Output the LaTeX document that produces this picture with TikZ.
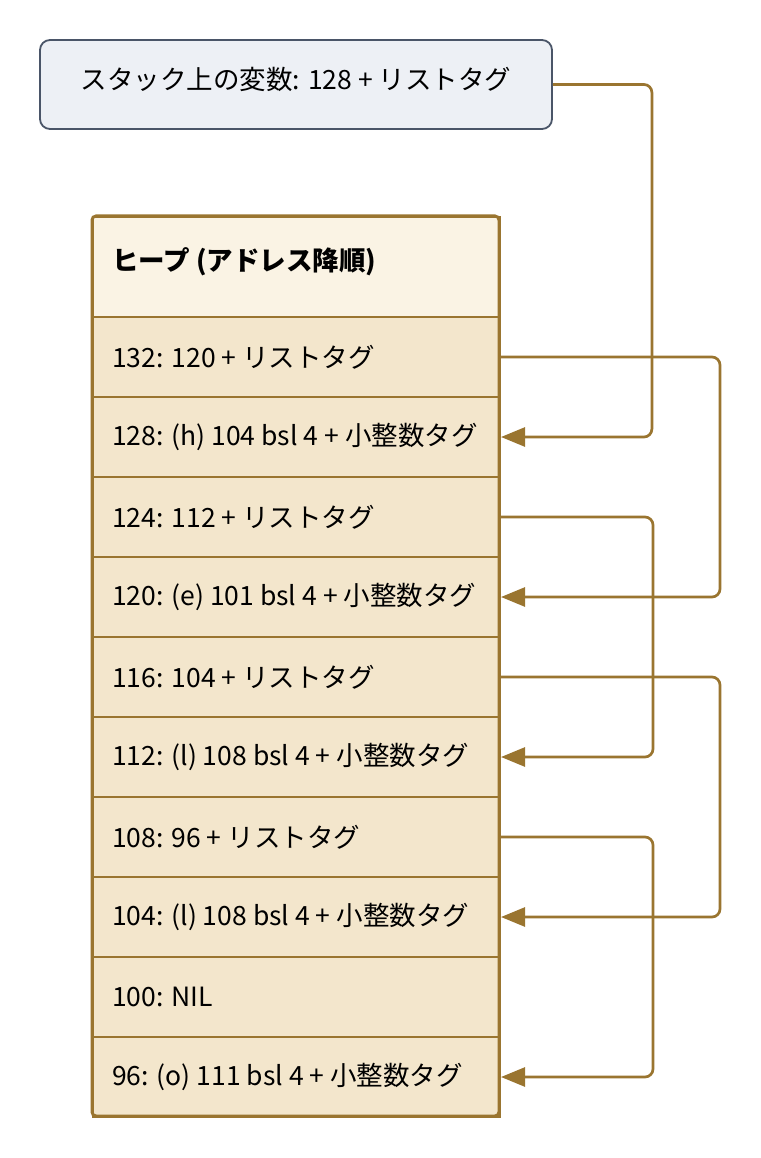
\documentclass[tikz,border=0pt]{standalone}
\usepackage{fontspec}
\setmainfont{Noto Sans CJK JP}
\usetikzlibrary{arrows.meta}
\definecolor{gold}{HTML}{9A7530}
\definecolor{hdrfill}{HTML}{FAF3E4}
\definecolor{rowfill}{HTML}{F3E6CC}
\definecolor{stackfill}{HTML}{EDF0F5}
\definecolor{stackline}{HTML}{4A5568}
\tikzset{
  rowbox/.style={draw=gold, line width=2pt, fill=rowfill, minimum width=407pt, minimum height=80pt, inner sep=0pt, anchor=north west},
  rowtext/.style={anchor=west, inner sep=0pt, font=\fontsize{26.5}{30}\selectfont},
  conn/.style={draw=gold, line width=2.7pt, rounded corners=8pt, -{Triangle[length=24pt,width=19pt]}},
}
\begin{document}
\begin{tikzpicture}[x=1pt,y=-1pt]
\useasboundingbox (0,0) rectangle (760,1158);
% stack variable
\node[draw=stackline, line width=1.8pt, fill=stackfill, rounded corners=10pt, minimum width=512pt, minimum height=89pt, inner sep=0pt] (stack) at (296,84.5) {};
\node[rowtext, anchor=center] (stacklbl) at (296,79) {スタック上の変数: 128 + リストタグ};
% heap header
\node[draw=gold, line width=2pt, fill=hdrfill, minimum width=407pt, minimum height=100pt, inner sep=0pt, anchor=north west] (hdr) at (92,216) {};
\node[rowtext, font=\fontsize{26.5}{30}\selectfont\bfseries] (hdrlbl) at (112,262) {ヒープ (アドレス降順)};
% rows
\foreach \n/\t [count=\i from 0] in {
  r132/{132: 120 + リストタグ},
  r128/{128: (h) 104 bsl 4 + 小整数タグ},
  r124/{124: 112 + リストタグ},
  r120/{120: (e) 101 bsl 4 + 小整数タグ},
  r116/{116: 104 + リストタグ},
  r112/{112: (l) 108 bsl 4 + 小整数タグ},
  r108/{108: 96 + リストタグ},
  r104/{104: (l) 108 bsl 4 + 小整数タグ},
  r100/{100: NIL},
  r96/{96: (o) 111 bsl 4 + 小整数タグ}} {
  \node[rowbox] (\n) at (92,316+80*\i) {};
  \node[rowtext] (\n lbl) at (112,357+80*\i) {\t};
}
% outer heap frame
\draw[gold, line width=3pt, rounded corners=4pt] (92,216) rectangle (499,1116);
% connectors
\draw[conn] (stack.east) -- ++(99,0) |- (r128.east);
\draw[conn] (r132.east) -- ++(219,0) |- (r120.east);
\draw[conn] (r124.east) -- ++(152,0) |- (r112.east);
\draw[conn] (r116.east) -- ++(219,0) |- (r104.east);
\draw[conn] (r108.east) -- ++(152,0) |- (r96.east);
\end{tikzpicture}
\end{document}
